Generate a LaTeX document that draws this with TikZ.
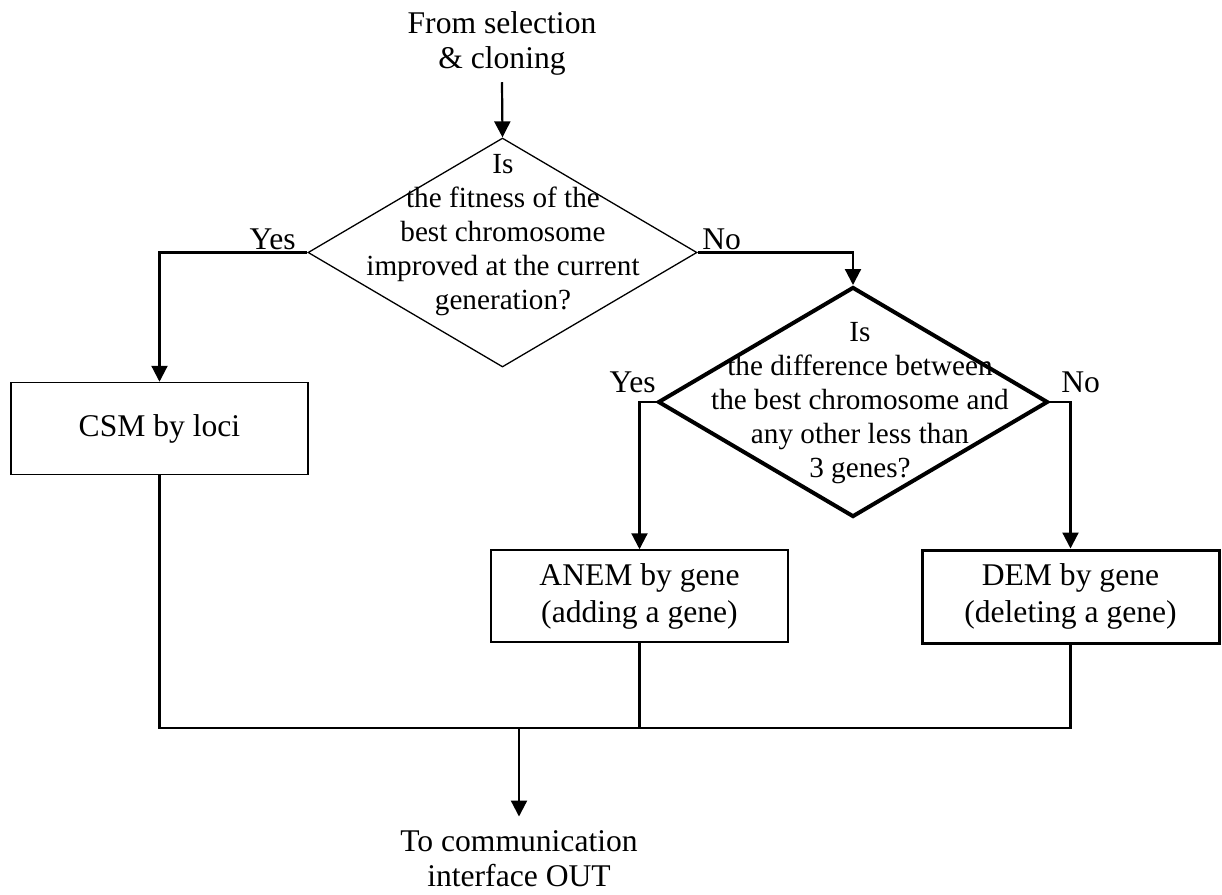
\documentclass[tikz,border=0pt]{standalone}
\usepackage{fontspec}
\setmainfont{Liberation Serif}
\usetikzlibrary{shapes.geometric,arrows.meta}
\begin{document}
\begin{tikzpicture}[x=0.5pt,y=-0.5pt,
  every node/.style={font=\fontsize{15.8}{17.5}\selectfont},
  txt/.style={align=center,inner sep=0.3333em},
  dtxt/.style={align=center,inner sep=0pt},
  lbl/.style={inner sep=0pt},
  dia1/.style={diamond,draw,line width=0.65pt,minimum width=194.5pt,minimum height=114.5pt,inner sep=0pt},
  dia2/.style={diamond,draw,line width=2pt,minimum width=195pt,minimum height=115pt,inner sep=0pt},
  boxthin/.style={rectangle,draw,line width=0.75pt,minimum width=148.5pt,minimum height=46pt,align=center,
     font=\fontsize{15.8}{18.5}\selectfont},
  boxthick/.style={rectangle,draw,line width=1.5pt,minimum width=148.5pt,minimum height=46.5pt,align=center,
     font=\fontsize{15.8}{18.5}\selectfont},
  conn/.style={line width=1.1pt},
  arr/.style={conn,-{Triangle[width=8pt,length=8pt]}}
]
\useasboundingbox (0,0) rectangle (1222,895);

% top and bottom texts
\node[txt] (top) at (502,43.3) {From selection\\\& cloning};
\node[txt] (bot) at (519,858.7) {To communication\\interface OUT};

% decisions
\node[dia1] (d1) at (502.5,252.5) {};
\node[dtxt,font=\fontsize{14.6}{17}\selectfont] (d1t) at (503,234.7) {Is\\the fitness of the\\best chromosome\\improved at the current\\generation?};
\node[dia2] (d2) at (853,402) {};
\node[dtxt,font=\fontsize{14.6}{16.9}\selectfont] (d2t) at (860,403) {Is\\the difference between\\the best chromosome and\\any other less than\\3 genes?};

% process boxes
\node[boxthin] (csm) at (159.5,428.5) {CSM by loci};
\node[boxthin] (anem) at (639.5,596) {ANEM by gene\\(adding a gene)};
\node[boxthick] (dem) at (1070.5,596.5) {DEM by gene\\(deleting a gene)};

% labels
\node[lbl,anchor=base east] (yes1) at (296,249) {Yes};
\node[lbl,anchor=base west] (no1) at (702,249) {No};
\node[lbl,anchor=base east] (yes2) at (656,392) {Yes};
\node[lbl,anchor=base west] (no2) at (1061,392) {No};

% connectors
\draw[arr] (top.south) -- (d1.north);
\draw[arr] (d1.west) -| (csm.north);
\draw[arr] (d1.east) -| (d2.north);
\draw[arr] (d2.west) -| (anem.north);
\draw[arr] (d2.east) -| (dem.north);

\coordinate (j) at (519,728);
\draw[conn] (csm.south) -- (csm.south |- j) -- (dem.south |- j) -- (dem.south);
\draw[conn] (anem.south) -- (anem.south |- j);
\draw[arr,shorten >=3.5pt] (j) -- (bot.north);
\end{tikzpicture}
\end{document}
